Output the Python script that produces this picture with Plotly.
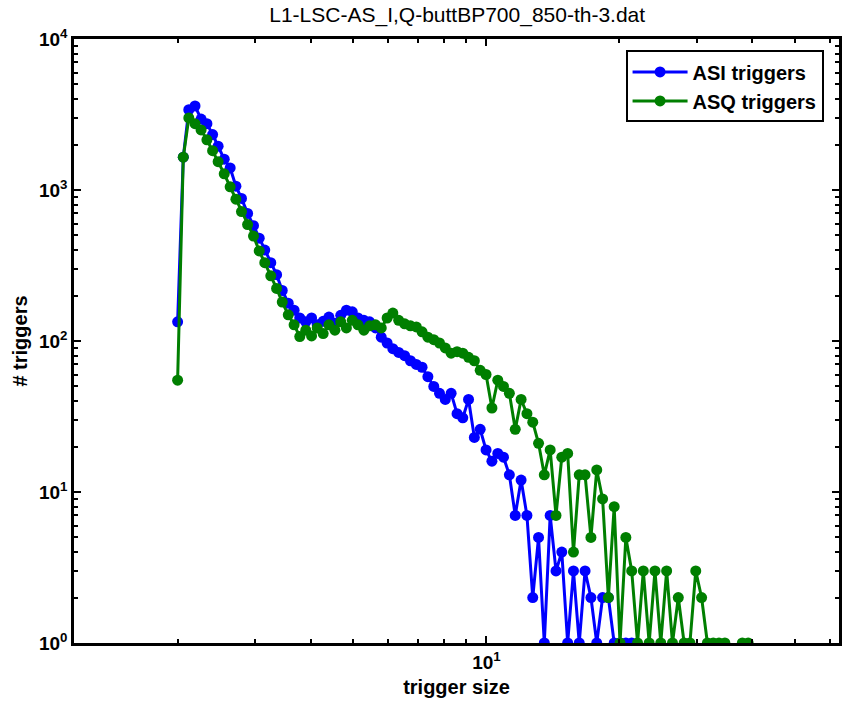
import plotly.graph_objects as go

# bin centres (trigger size), log-spaced
trigger_size = [
    2.00, 2.06, 2.12, 2.19, 2.26, 2.33, 2.40, 2.47, 2.55, 2.63,
    2.71, 2.79, 2.88, 2.97, 3.06, 3.15, 3.25, 3.35, 3.45, 3.56,
    3.67, 3.78, 3.90, 4.02, 4.14, 4.27, 4.40, 4.54, 4.68, 4.82,
    4.97, 5.12, 5.28, 5.44, 5.61, 5.78, 5.96, 6.14, 6.33, 6.53,
    6.73, 6.94, 7.15, 7.37, 7.60, 7.83, 8.07, 8.32, 8.58, 8.84,
    9.11, 9.39, 9.68, 9.98, 10.29, 10.61, 10.93, 11.27, 11.62, 11.98,
    12.35, 12.73, 13.12, 13.52, 13.94, 14.37, 14.81, 15.27, 15.74, 16.22,
    16.72, 17.24, 17.77, 18.32, 18.88, 19.46, 20.06, 20.68, 21.32, 21.98,
    22.65, 23.35, 24.07, 24.81, 25.58, 26.37, 27.18, 28.02, 28.88, 29.77,
    30.69, 31.63, 32.61, 33.61, 34.65, 35.72, 36.82, 37.95, 39.12, 40.33,
]

asi_triggers = [
    134, 1650, 3400, 3600, 2950, 2750, 2330, 1950, 1600, 1400,
    1060, 880, 700, 580, 480, 400, 330, 275, 216, 178,
    160, 142, 134, 142, 128, 135, 144, 131, 148, 160,
    156, 142, 137, 134, 122, 106, 97, 89, 84, 80,
    74, 70, 67, 58, 50, 45, 41, 45, 33, 31,
    41, 23, 26, 19, 16, 18, 17, 13, 7, 12,
    7, 2, 5, 1, 7, 3, 4, 1, 3, 1,
    3, 2, 1, 2, 2, 1, 1, 1, 1, None,
    None, None, None, None, None, None, None, None, None, None,
    None, None, None, None, None, None, None, None, None, None,
]

asq_triggers = [
    55, 1650, 3000, 2750, 2500, 2150, 1820, 1540, 1280, 1050,
    870, 720, 590, 495, 395, 330, 270, 223, 181, 149,
    128, 107, 118, 108, 122, 112, 128, 118, 134, 122,
    137, 128, 118, 126, 128, 122, 142, 153, 137, 130,
    126, 124, 115, 106, 102, 97, 90, 83, 85, 83,
    78, 74, 64, 60, 36, 55, 50, 45, 26, 41,
    33, 29, 21, 13, 19, 7, 17, 18, 4, 13,
    13, 5, 14, 9, 2, 8, 1, 5, 3, 1,
    3, 1, 3, 1, 3, 1, 2, 1, 1, 3,
    2, 1, 1, 1, 1, None, None, 1, 1, None,
]

series_names = ["ASI triggers", "ASQ triggers"]
series_colors = ["#0000ff", "#007f00"]

y_tickvals = [1, 10, 100, 1000, 10000]
y_ticktext = ["10<sup>0</sup>", "10<sup>1</sup>", "10<sup>2</sup>", "10<sup>3</sup>", "10<sup>4</sup>"]
x_tickvals = [10]
x_ticktext = ["10<sup>1</sup>"]
x_minor = [2, 3, 4, 5, 6, 7, 8, 9, 20, 30, 40, 50, 60]
y_minor = [m * 10 ** d for d in range(4) for m in range(2, 10)]

FONT = "Liberation Sans, Arial, sans-serif"

fig = go.Figure()
for name, vals, col in zip(series_names, [asi_triggers, asq_triggers], series_colors):
    fig.add_trace(go.Scatter(
        x=trigger_size, y=vals, name=name, mode="lines+markers",
        line=dict(color=col, width=3),
        marker=dict(color=col, size=11, symbol="circle"),
        connectgaps=False,
    ))

fig.update_layout(
    width=842, height=711,
    margin=dict(l=74, r=0, t=39, b=68),
    paper_bgcolor="white", plot_bgcolor="white",
    title=dict(text="L1-LSC-AS_I,Q-buttBP700_850-th-3.dat", x=0.543, xanchor="center",
               y=0.979, yanchor="middle",
               font=dict(family=FONT, size=21, color="black")),
    font=dict(family=FONT, color="black"),
    showlegend=True,
    legend=dict(x=0.721, y=0.981, xanchor="left", yanchor="top",
                bordercolor="black", borderwidth=2, bgcolor="white",
                font=dict(family=FONT, size=20, color="black", weight="bold"),
                tracegroupgap=0, itemwidth=55),
)

fig.update_xaxes(
    type="log", range=[0.0665, 1.798],
    tickvals=x_tickvals, ticktext=x_ticktext,
    ticks="inside", ticklen=7, tickwidth=2, tickcolor="black",
    showline=True, linecolor="black", linewidth=2.5, mirror="allticks",
    showgrid=False, zeroline=False,
    tickfont=dict(family=FONT, size=19, color="black", weight="bold"),
    minor=dict(tickvals=x_minor, ticks="inside", ticklen=4, tickwidth=2, tickcolor="black", showgrid=False),
    title=dict(text="trigger size", font=dict(family=FONT, size=20, color="black", weight="bold"), standoff=9),
)
fig.update_yaxes(
    type="log", range=[0, 4],
    tickvals=y_tickvals, ticktext=y_ticktext,
    ticks="inside", ticklen=7, tickwidth=2, tickcolor="black",
    showline=True, linecolor="black", linewidth=2.5, mirror="allticks",
    showgrid=False, zeroline=False,
    tickfont=dict(family=FONT, size=19, color="black", weight="bold"),
    minor=dict(tickvals=y_minor, ticks="inside", ticklen=4, tickwidth=2, tickcolor="black", showgrid=False),
    title=dict(text="# triggers", font=dict(family=FONT, size=20, color="black", weight="bold"), standoff=6),
)

fig.write_html("out.html")
